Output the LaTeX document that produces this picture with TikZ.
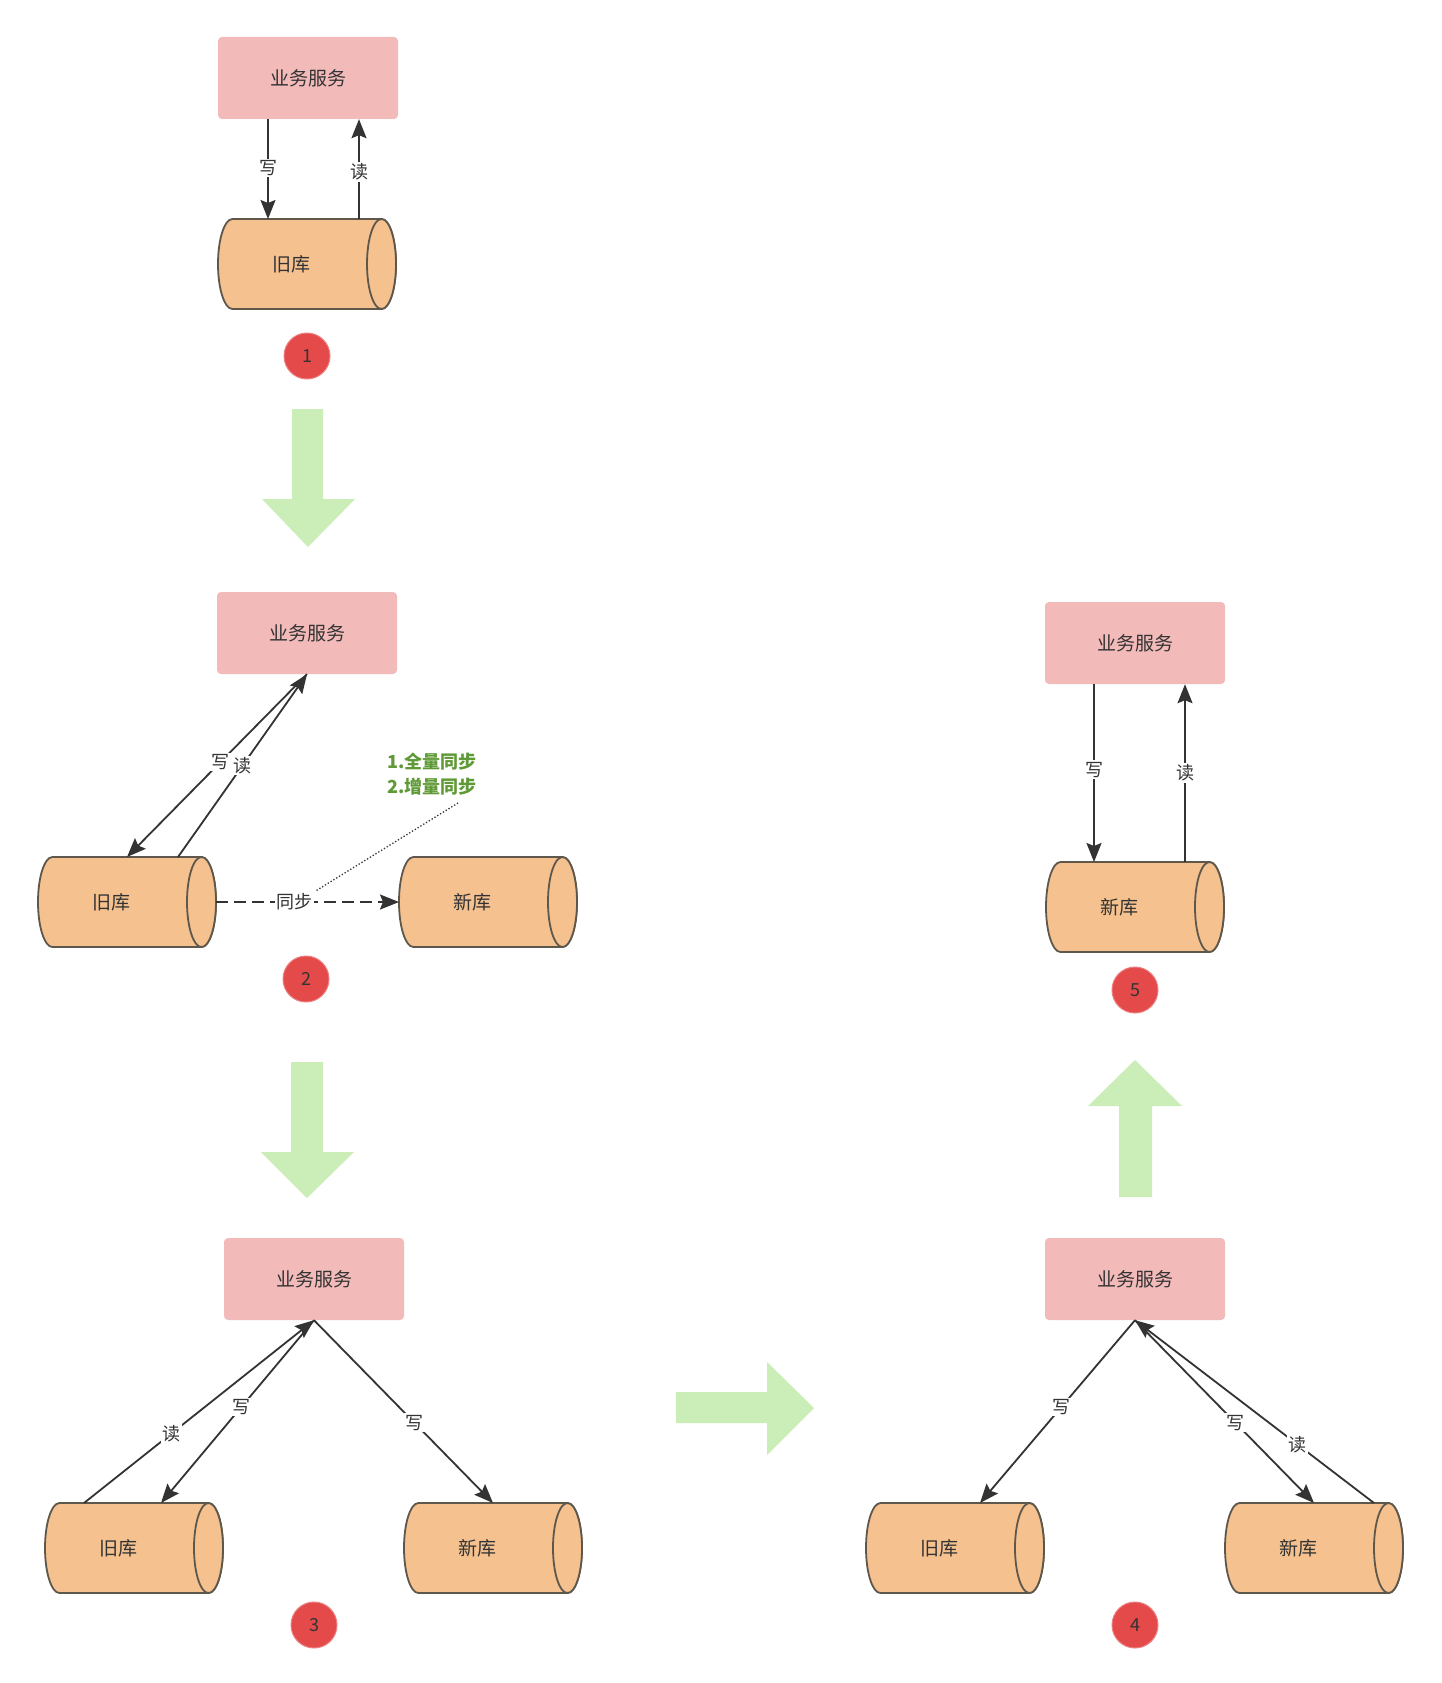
\documentclass[tikz,border=0pt]{standalone}
\usepackage{fontspec}
\newfontfamily\cjk{Noto Sans CJK SC}
\usetikzlibrary{arrows.meta}
\definecolor{boxpink}{HTML}{F3BABA}
\definecolor{cylfill}{HTML}{F4C18F}
\definecolor{cylline}{HTML}{5E574C}
\definecolor{badgered}{HTML}{E44A4A}
\definecolor{bigarrow}{HTML}{CBEDB7}
\definecolor{greentext}{HTML}{5F9A36}
\definecolor{linecol}{HTML}{333333}
\tikzset{
  svc/.style={fill=boxpink, rounded corners=4pt, minimum width=180pt, minimum height=82pt, inner sep=0pt, font=\cjk\fontsize{19}{22}\selectfont, text=linecol},
  cylst/.style={fill=cylfill, draw=cylline, line width=1.8pt},
  anchorbox/.style={minimum width=178pt, minimum height=90pt, inner sep=0pt, outer sep=0pt},
  cyltext/.style={font=\cjk\fontsize{19}{22}\selectfont, text=linecol, inner sep=0pt},
  badge/.style={circle, fill=badgered, draw=badgered!70!white, line width=1pt, minimum size=46pt, inner sep=0pt, font=\cjk\fontsize{18}{20}\selectfont, text=black!80},
  conn/.style={draw=linecol, line width=1.8pt, -{Stealth[length=19pt, width=15pt, inset=3pt]}},
  lbl/.style={fill=white, inner sep=1.5pt, font=\cjk\fontsize{18}{20}\selectfont, text=linecol},
  bigarr/.style={fill=bigarrow, draw=none},
  greenlbl/.style={font=\cjk\bfseries\fontsize{18}{25}\selectfont, text=greentext, align=center, inner sep=0pt}
}
\newcommand\dbcyl[4]{%
  \begin{scope}[shift={(#2,-#3)}]
    \filldraw[cylst] (-74.5,45) -- (74.5,45) arc[start angle=90,end angle=-90,x radius=14.5,y radius=45] -- (-74.5,-45) arc[start angle=270,end angle=90,x radius=14.5,y radius=45] -- cycle;
    \filldraw[cylst] (74.5,0) ellipse[x radius=14.5, y radius=45];
    \node[anchorbox] (#1) at (0,0) {};
    \node[cyltext] (#1t) at (-16,0) {#4};
  \end{scope}}
\begin{document}
\begin{tikzpicture}[x=1pt, y=1pt]
\path[use as bounding box, fill=white] (0,0) rectangle (1442,-1683);

% big green arrows
\fill[bigarr] (292,-409) -- (323,-409) -- (323,-499) -- (355,-499) -- (308,-547) -- (262,-499) -- (292,-499) -- cycle;
\fill[bigarr] (291,-1062) -- (323,-1062) -- (323,-1152) -- (354,-1152) -- (307,-1198) -- (261,-1152) -- (291,-1152) -- cycle;
\fill[bigarr] (676,-1392) -- (767,-1392) -- (767,-1362) -- (814,-1408) -- (767,-1455) -- (767,-1423) -- (676,-1423) -- cycle;
\fill[bigarr] (1119,-1197) -- (1119,-1106) -- (1088,-1106) -- (1135,-1060) -- (1182,-1106) -- (1152,-1106) -- (1152,-1197) -- cycle;

% panel 1
\node[svc] (b1) at (308,-78) {业务服务};
\dbcyl{c1}{307}{264}{旧库}
\node[badge] (n1) at (307,-356) {1};
\draw[conn] ([xshift=-40pt]b1.south) -- node[lbl, pos=0.49] {写} ([xshift=-39pt]c1.north);
\draw[conn] ([xshift=52pt]c1.north) -- node[lbl, pos=0.47] {读} ([xshift=51pt]b1.south);

% panel 2
\node[svc] (b2) at (307,-633) {业务服务};
\dbcyl{c2o}{127}{902}{旧库}
\dbcyl{c2n}{488}{902}{新库}
\node[badge] (n2) at (306,-979) {2};
\draw[conn] (b2.south) -- node[lbl, pos=0.48] {写} (c2o.north);
\draw[conn] ([xshift=51pt]c2o.north) -- node[lbl, pos=0.5] {读} (b2.south);
\draw[conn, dash pattern=on 12pt off 6pt] (c2o.east) -- node[lbl, pos=0.43] (s2) {同步} (c2n.west);
\node[greenlbl] (g2) at (432,-774) {1.全量同步\\2.增量同步};
\coordinate (d2) at (458,-803);
\draw[linecol, line width=1.3pt, dotted] (d2) -- (s2.north east);

% panel 3
\node[svc] (b3) at (314,-1279) {业务服务};
\dbcyl{c3o}{134}{1548}{旧库}
\dbcyl{c3n}{493}{1548}{新库}
\node[badge] (n3) at (314,-1625) {3};
\draw[conn] ([xshift=-50pt]c3o.north) -- node[lbl, pos=0.38] {读} (b3.south);
\draw[conn] (b3.south) -- node[lbl, pos=0.475] {写} ([xshift=27pt]c3o.north);
\draw[conn] (b3.south) -- node[lbl, pos=0.56] {写} (c3n.north);

% panel 4
\node[svc] (b4) at (1135,-1279) {业务服务};
\dbcyl{c4o}{955}{1548}{旧库}
\dbcyl{c4n}{1314}{1548}{新库}
\node[badge] (n4) at (1135,-1625) {4};
\draw[conn] (b4.south) -- node[lbl, pos=0.475] {写} ([xshift=25pt]c4o.north);
\draw[conn] (b4.south) -- node[lbl, pos=0.56] {写} (c4n.north);
\draw[conn] ([xshift=60pt]c4n.north) -- node[lbl, pos=0.32] {读} (b4.south);

% panel 5
\node[svc] (b5) at (1135,-643) {业务服务};
\dbcyl{c5}{1135}{907}{新库}
\node[badge] (n5) at (1135,-990) {5};
\draw[conn] ([xshift=-41pt]b5.south) -- node[lbl, pos=0.48] {写} ([xshift=-41pt]c5.north);
\draw[conn] ([xshift=50pt]c5.north) -- node[lbl, pos=0.5] {读} ([xshift=50pt]b5.south);
\end{tikzpicture}
\end{document}
